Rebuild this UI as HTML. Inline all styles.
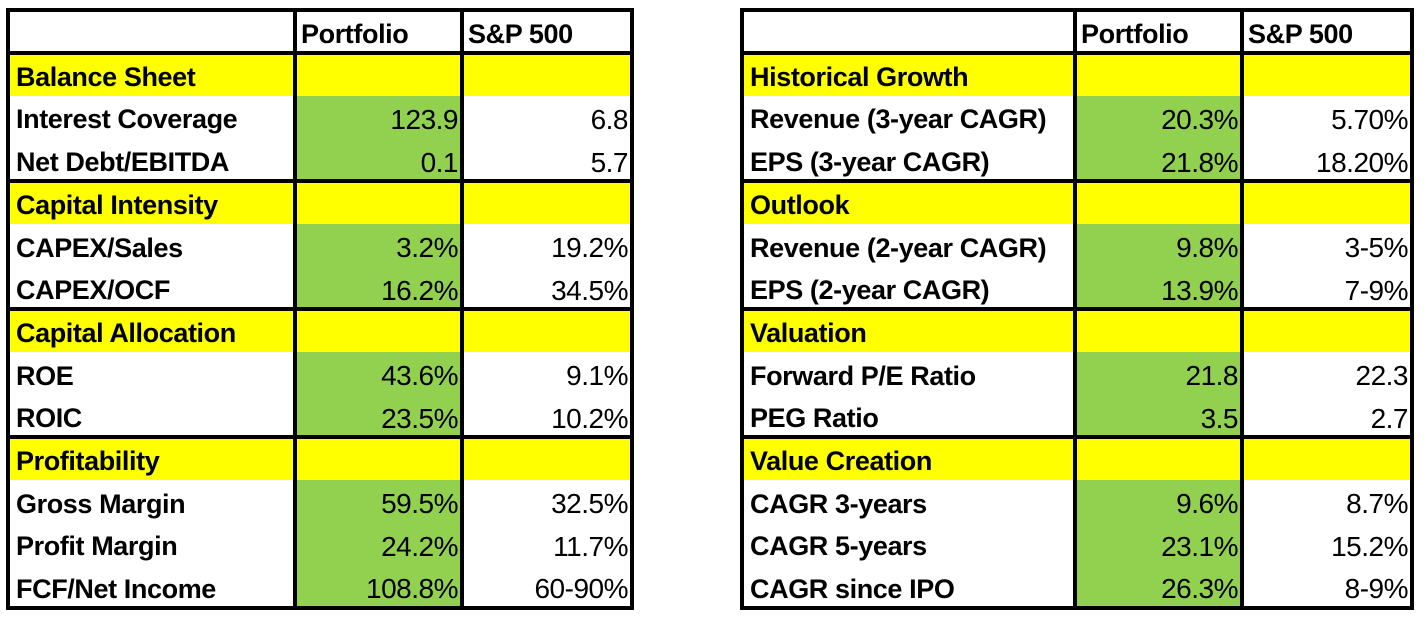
<!DOCTYPE html>
<html><head><meta charset="utf-8"><style>
body{margin:0;background:#fff;width:1424px;height:618px;position:relative;overflow:hidden;font-family:"Liberation Sans",Arial,sans-serif}
.c{position:absolute;box-sizing:border-box;display:flex;align-items:center;white-space:nowrap;padding-top:6px}
.l{font-weight:bold;font-size:27px;padding-left:8px;color:#000;letter-spacing:-0.4px}
.v{font-size:28px;justify-content:flex-end;padding-right:4px;color:#000;letter-spacing:-0.5px}
.h{font-weight:bold;font-size:27px;padding-left:6px;letter-spacing:-0.4px}
.ln{position:absolute;background:#000}
</style></head><body>
<div id="root"></div>
<script>
const leftRows=[
["g","Balance Sheet"],["r","Interest Coverage","123.9","6.8"],["r","Net Debt/EBITDA","0.1","5.7"],
["g","Capital Intensity"],["r","CAPEX/Sales","3.2%","19.2%"],["r","CAPEX/OCF","16.2%","34.5%"],
["g","Capital Allocation"],["r","ROE","43.6%","9.1%"],["r","ROIC","23.5%","10.2%"],
["g","Profitability"],["r","Gross Margin","59.5%","32.5%"],["r","Profit Margin","24.2%","11.7%"],["r","FCF/Net Income","108.8%","60-90%"]];
const rightRows=[
["g","Historical Growth"],["r","Revenue (3-year CAGR)","20.3%","5.70%"],["r","EPS (3-year CAGR)","21.8%","18.20%"],
["g","Outlook"],["r","Revenue (2-year CAGR)","9.8%","3-5%"],["r","EPS (2-year CAGR)","13.9%","7-9%"],
["g","Valuation"],["r","Forward P/E Ratio","21.8","22.3"],["r","PEG Ratio","3.5","2.7"],
["g","Value Creation"],["r","CAGR 3-years","9.6%","8.7%"],["r","CAGR 5-years","23.1%","15.2%"],["r","CAGR since IPO","26.3%","8-9%"]];
const root=document.getElementById('root');
function cell(x,y,w,h,cls,txt,bg){const d=document.createElement('div');d.className='c '+cls;
d.style.cssText=`left:${x}px;top:${y}px;width:${w}px;height:${h}px;`+(bg?`background:${bg};`:'');d.textContent=txt||'';root.appendChild(d);return d;}
function line(x,y,w,h){const d=document.createElement('div');d.className='ln';d.style.cssText=`left:${x}px;top:${y}px;width:${w}px;height:${h}px`;


root.appendChild(d);}
function table(cols,rows,prefix){
 const top=10,hb=53,bottom=608,rh=42.67;
 let d=cell(cols[1],top,cols[2]-cols[1],hb-top,'h','Portfolio');
 
 
 d=cell(cols[2],top,cols[3]-cols[2],hb-top,'h','S&P 500');
 
 
 let y=hb;const groupLines=[];
 rows.forEach((r,i)=>{
  const h=rh;
  if(r[0]==='g'){
   if(i>0)groupLines.push(y);
   d=cell(cols[0],y,cols[3]-cols[0],h,'l',r[1],'#ffff00');
   
   
  }else{
   d=cell(cols[0],y,cols[1]-cols[0],h,'l',r[1]);
   
   
   d=cell(cols[1],y,cols[2]-cols[1],h,'v',r[2],'#92d050');
   
   
   d=cell(cols[2],y,cols[3]-cols[2],h,'v',r[3]);
   
   
  }
  y+=h;
 });
 const t=4;
 line(cols[0]-2,top-2,cols[3]-cols[0]+4,t);
 line(cols[0]-2,bottom-2,cols[3]-cols[0]+4,t);
 line(cols[0]-2,hb-2,cols[3]-cols[0]+4,t);
 groupLines.forEach(g=>line(cols[0]-2,g-2,cols[3]-cols[0]+4,t));
 cols.forEach(x=>line(x-2,top-2,t,bottom-top+4));
}
table([8,295,462,632],leftRows,'left');
table([742,1075,1242,1412],rightRows,'right');
</script>
</body></html>
